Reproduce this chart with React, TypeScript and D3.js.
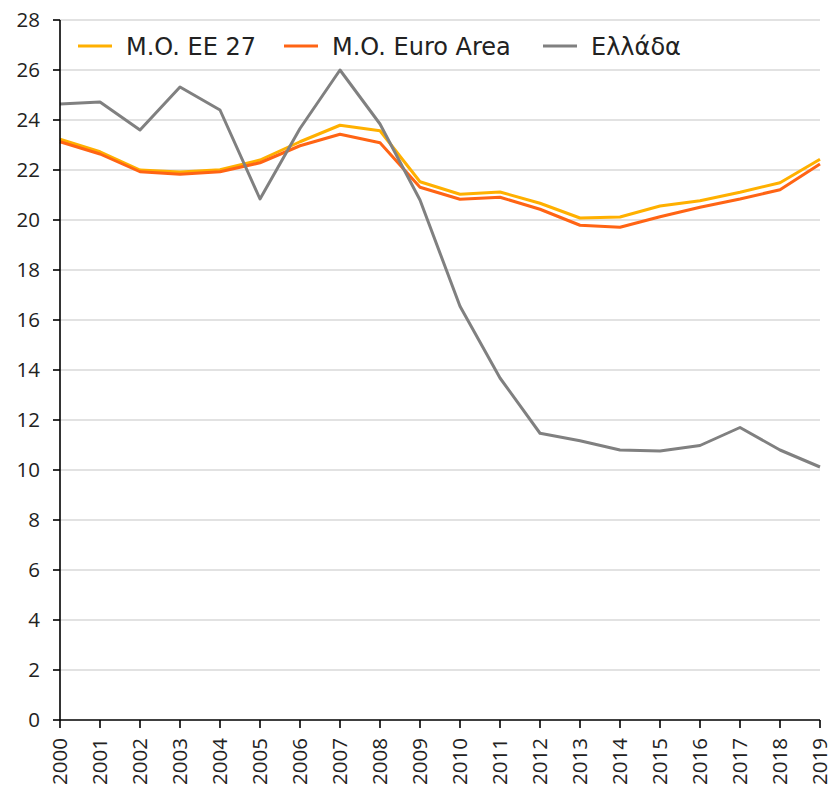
import React from 'react'
import * as d3 from 'd3'

const YEARS = [2000, 2001, 2002, 2003, 2004, 2005, 2006, 2007, 2008, 2009, 2010, 2011, 2012, 2013, 2014, 2015, 2016, 2017, 2018, 2019]

const EU27 = [23.23, 22.73, 22.0, 21.92, 22.01, 22.4, 23.13, 23.79, 23.57, 21.53, 21.03, 21.12, 20.67, 20.08, 20.12, 20.56, 20.77, 21.11, 21.49, 22.43]
const EURO_AREA = [23.13, 22.64, 21.93, 21.83, 21.93, 22.29, 22.97, 23.43, 23.09, 21.31, 20.83, 20.91, 20.43, 19.79, 19.71, 20.13, 20.51, 20.84, 21.21, 22.24]
const GREECE = [24.64, 24.72, 23.6, 25.32, 24.4, 20.84, 23.66, 26.0, 23.84, 20.8, 16.55, 13.68, 11.47, 11.17, 10.8, 10.76, 10.98, 11.7, 10.8, 10.12]

const Y_TICKS = [0, 2, 4, 6, 8, 10, 12, 14, 16, 18, 20, 22, 24, 26, 28]

const SERIES = [
  { name: 'M.O. EE 27', values: EU27, color: '#ffb000', legendX: 78 },
  { name: 'M.O. Euro Area', values: EURO_AREA, color: '#ff6414', legendX: 284 },
  { name: 'Ελλάδα', values: GREECE, color: '#808080', legendX: 543 },
]

const W = 828
const H = 785
const margin = { top: 20, right: 8, bottom: 65, left: 60 }

export default function App() {
  const x = d3.scaleLinear().domain([2000, 2019]).range([margin.left, W - margin.right])
  const y = d3.scaleLinear().domain([0, 28]).range([H - margin.bottom, margin.top])

  const line = d3
    .line<number>()
    .x((_, i) => x(YEARS[i]))
    .y((d) => y(d))

  const axisFont = "'Open Sans', sans-serif"

  return (
    <div style={{ position: 'absolute', left: 0, top: 0, background: '#fff' }}>
      <svg width={W} height={H} style={{ display: 'block' }}>
        <rect width={W} height={H} fill="#fff" />
        {/* grid */}
        {Y_TICKS.filter((t) => t > 0).map((t) => (
          <line key={t} x1={x(2000)} x2={x(2019)} y1={y(t)} y2={y(t)} stroke="#d9d9d9" strokeWidth={1.3} />
        ))}

        {/* lines */}
        {SERIES.map((s) => (
          <path key={s.name} d={line(s.values) || ''} fill="none" stroke={s.color} strokeWidth={3} strokeLinejoin="round" />
        ))}

        {/* y axis */}
        <line x1={x(2000)} x2={x(2000)} y1={y(0)} y2={y(28)} stroke="#000" strokeWidth={1.6} />
        {Y_TICKS.map((t) => (
          <g key={t}>
            <line x1={x(2000) - 7} x2={x(2000)} y1={y(t)} y2={y(t)} stroke="#000" strokeWidth={1.6} />
            <text x={40} y={y(t)} dy="0.36em" textAnchor="end" fontSize={20.5} fontFamily={axisFont} fill="#222">
              {t}
            </text>
          </g>
        ))}

        {/* x axis */}
        <line x1={x(2000)} x2={x(2019)} y1={y(0)} y2={y(0)} stroke="#000" strokeWidth={1.6} />
        {YEARS.map((yr) => (
          <g key={yr}>
            <line x1={x(yr)} x2={x(yr)} y1={y(0)} y2={y(0) + 8} stroke="#000" strokeWidth={1.6} />
            <text
              transform={`translate(${x(yr)},${y(0) + 18}) rotate(-90)`}
              dy="0.36em"
              textAnchor="end"
              fontSize={20.5}
              fontFamily={axisFont}
              fill="#222"
            >
              {yr}
            </text>
          </g>
        ))}

        {/* legend */}
        {SERIES.map((s) => (
          <g key={s.name} transform={`translate(${s.legendX},46)`}>
            <line x1={0} x2={34} y1={0} y2={0} stroke={s.color} strokeWidth={3} />
            <text x={48} y={0} dy="0.36em" fontSize={24} fontFamily="'DejaVu Sans', sans-serif" fill="#222">
              {s.name}
            </text>
          </g>
        ))}
      </svg>
    </div>
  )
}
